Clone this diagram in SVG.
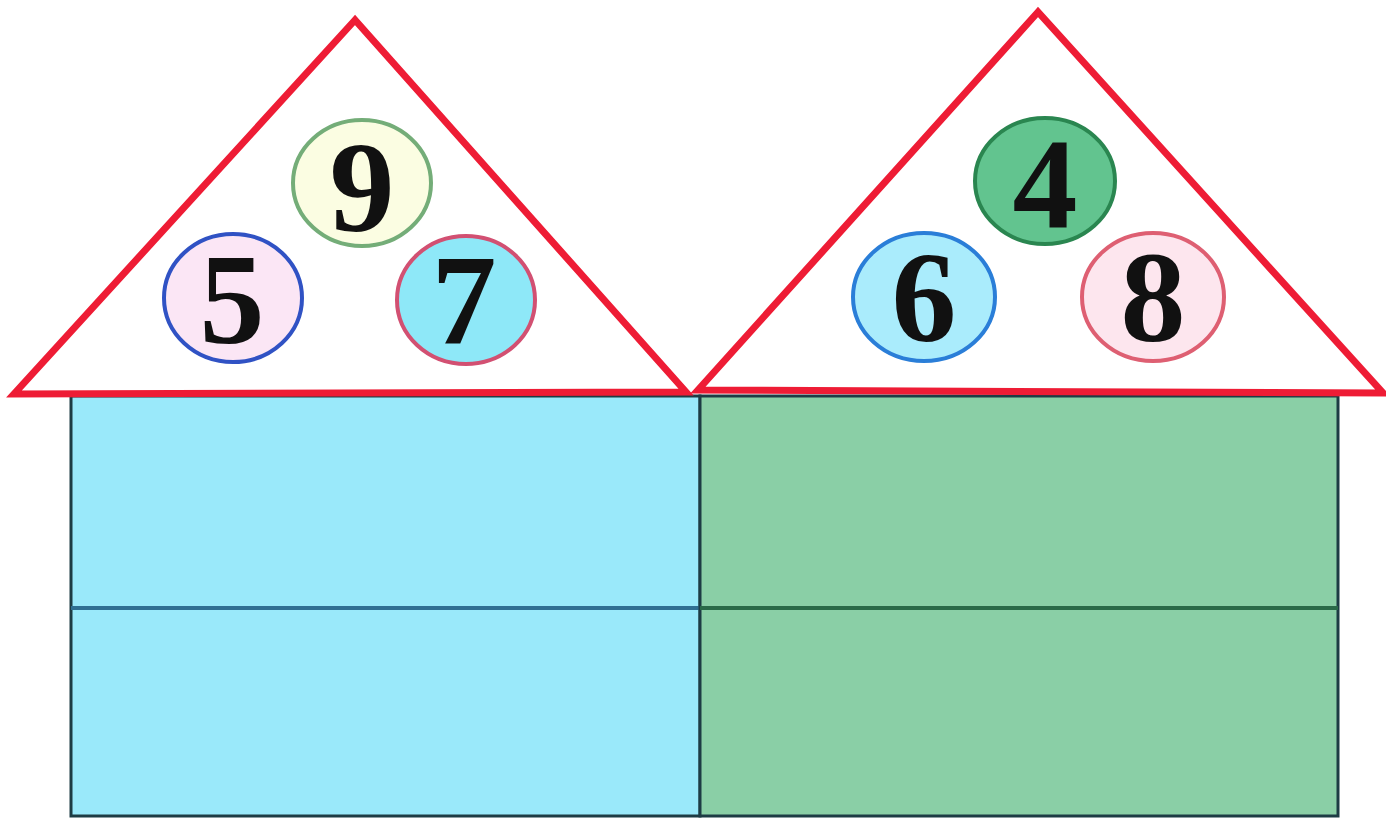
<svg xmlns="http://www.w3.org/2000/svg" width="1386" height="818" viewBox="0 0 1386 818">
<style>
.roof{fill:#ffffff;stroke:#ee1c35;stroke-width:7;stroke-linejoin:miter}
.num{font-family:"Liberation Serif","DejaVu Serif",serif;font-weight:bold;font-size:130px;fill:#111111;text-anchor:middle}
.wall{stroke:#1d3c44;stroke-width:3}
</style>
<rect width="1386" height="818" fill="#ffffff"/>
<g id="wall-left">
<rect x="71" y="396" width="629" height="420" fill="#9ae9fa" class="wall"/>
<line x1="71" y1="608" x2="700" y2="608" stroke="#2f6f92" stroke-width="4"/>
</g>
<g id="wall-right">
<rect x="700" y="396" width="638" height="420" fill="#8acfa6" class="wall"/>
<line x1="700" y1="608" x2="1338" y2="608" stroke="#2a6a48" stroke-width="4"/>
</g>
<g id="roof-left">
<polygon class="roof" points="355,20 14,394 686,392"/>
</g>
<g id="roof-right">
<polygon class="roof" points="1038,12 698,390 1383,393"/>
</g>
<g id="ball-9"><ellipse cx="362" cy="183" rx="69" ry="63" fill="#fbfde2" stroke="#74ad78" stroke-width="4"/><text class="num" x="362" y="231">9</text></g>
<g id="ball-5"><ellipse cx="233" cy="298" rx="69" ry="64" fill="#fbe6f5" stroke="#3052c4" stroke-width="4"/><text class="num" x="232" y="343">5</text></g>
<g id="ball-7"><ellipse cx="466" cy="300" rx="69" ry="64" fill="#8ee8f8" stroke="#d25072" stroke-width="4"/><text class="num" x="464" y="344">7</text></g>
<g id="ball-4"><ellipse cx="1045" cy="181" rx="70" ry="63" fill="#62c48f" stroke="#2a8650" stroke-width="4"/><text class="num" x="1045" y="228">4</text></g>
<g id="ball-6"><ellipse cx="924" cy="297" rx="71" ry="64" fill="#aaecfc" stroke="#2a7ed8" stroke-width="4"/><text class="num" x="924" y="341">6</text></g>
<g id="ball-8"><ellipse cx="1153" cy="297" rx="71" ry="64" fill="#fde6ee" stroke="#de5f72" stroke-width="4"/><text class="num" x="1153" y="341">8</text></g>
</svg>
